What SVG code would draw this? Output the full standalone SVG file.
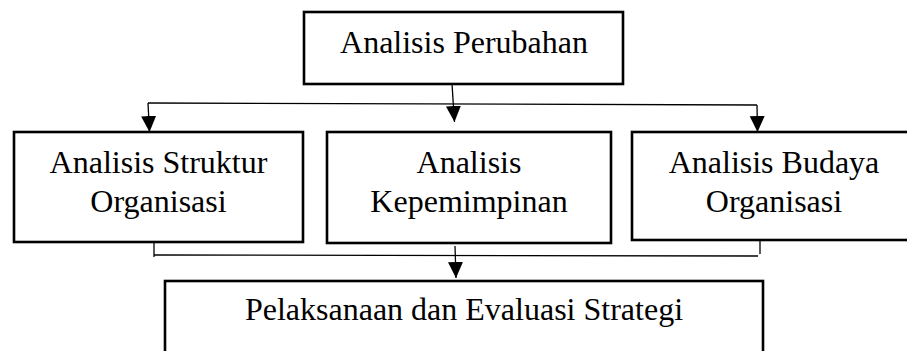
<svg xmlns="http://www.w3.org/2000/svg" width="907" height="351" viewBox="0 0 907 351">
<style>
.box{fill:#fff;stroke:#000;stroke-width:2.6}
.lbl{font-family:"Liberation Serif","Times New Roman",serif;font-size:32px;fill:#000;text-anchor:middle}
.ln{fill:none;stroke:#000;stroke-width:1.3}
</style>
<defs>
<marker id="arr" markerUnits="userSpaceOnUse" markerWidth="16" markerHeight="16" refX="16" refY="7.5" orient="auto" viewBox="0 0 16 15">
<path d="M0,0 L16,7.5 L0,15 z" fill="#000"/>
</marker>
</defs>
<rect width="907" height="351" fill="#fff"/>
<g id="connectors">
<line class="ln" x1="452" y1="84" x2="454.5" y2="122" marker-end="url(#arr)"/>
<line class="ln" x1="148" y1="103" x2="757" y2="105"/>
<line class="ln" x1="148" y1="103" x2="149.5" y2="132" marker-end="url(#arr)"/>
<line class="ln" x1="757" y1="105" x2="757.5" y2="132" marker-end="url(#arr)"/>
<line class="ln" x1="154" y1="243" x2="154" y2="257"/>
<line class="ln" x1="154" y1="255" x2="758" y2="256"/>
<line class="ln" x1="760" y1="240" x2="760" y2="254"/>
<line class="ln" x1="455" y1="246" x2="456" y2="278" marker-end="url(#arr)"/>
</g>
<g id="node-top">
<rect class="box" x="304" y="12" width="319" height="72"/>
<text class="lbl" x="464" y="53">Analisis Perubahan</text>
</g>
<g id="node-struktur">
<rect class="box" x="14" y="132" width="289" height="110"/>
<text class="lbl" x="158.5" y="173">Analisis Struktur</text>
<text class="lbl" x="158.5" y="212">Organisasi</text>
</g>
<g id="node-kepemimpinan">
<rect class="box" x="327" y="132" width="284" height="111"/>
<text class="lbl" x="469" y="173">Analisis</text>
<text class="lbl" x="469" y="212">Kepemimpinan</text>
</g>
<g id="node-budaya">
<rect class="box" x="632" y="132" width="284" height="108"/>
<text class="lbl" x="774" y="173">Analisis Budaya</text>
<text class="lbl" x="774" y="212">Organisasi</text>
</g>
<g id="node-pelaksanaan">
<rect class="box" x="165" y="281" width="598" height="100"/>
<text class="lbl" x="464" y="320">Pelaksanaan dan Evaluasi Strategi</text>
</g>
</svg>
